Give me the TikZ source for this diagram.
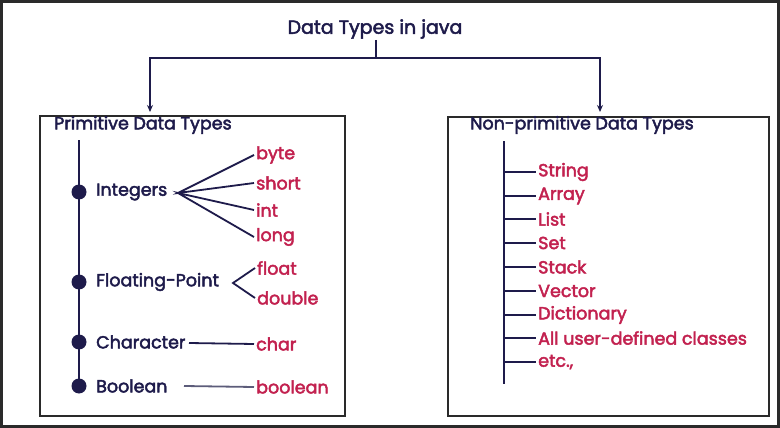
\documentclass[tikz,border=0pt]{standalone}
\usepackage{fontspec}
\setmainfont{Poppins}
\newfontfamily\semi{Poppins}[FakeBold=2.6]
\usetikzlibrary{arrows.meta}
\definecolor{navy}{HTML}{1E1B4B}
\definecolor{crim}{HTML}{C2214F}
\definecolor{slate}{HTML}{5C5C7A}
\definecolor{frame}{HTML}{2A2A2A}
\begin{document}
\begin{tikzpicture}[x=1pt,y=-1pt,
  ttl/.style={font=\semi\fontsize{19}{21}\selectfont, text=navy, inner sep=0pt},
  head/.style={font=\semi\fontsize{17.5}{19}\selectfont, text=navy, anchor=west, inner sep=0pt},
  lbl/.style={font=\semi\fontsize{17.5}{19}\selectfont, text=navy, anchor=west, inner sep=0pt},
  item/.style={font=\semi\fontsize{17.5}{19}\selectfont, text=crim, anchor=west, inner xsep=2pt, inner ysep=0pt},
  ln/.style={navy, line width=1.8pt},
  lnl/.style={slate, line width=1.8pt},
  arr/.style={ln, -{Stealth[length=7pt,width=6pt]}},
  dotn/.style={circle, fill=navy, minimum size=15pt, inner sep=0pt},
  boxn/.style={draw=frame, line width=1.2pt, inner sep=0pt}
]
\useasboundingbox (0,0) rectangle (780,428);
\draw[frame, line width=3pt] (1.5,1.5) rectangle (778.5,426.5);

% title and branches
\node[ttl] (root) at (375,29) {Data Types in java};
\coordinate (j) at (376,58);
\coordinate (pa) at (150,112);
\coordinate (na) at (600,112);
\draw[ln] (376,40) -- (j);
\draw[arr] (j) -| (pa);
\draw[arr] (j) -| (na);

% boxes
\node[boxn, minimum width=305pt, minimum height=300pt] (pbox) at (192.5,266) {};
\node[boxn, minimum width=321pt, minimum height=299pt] (nbox) at (608.5,266.5) {};
\node[head] (ph) at (54,125) {Primitive Data Types};
\node[head] (nh) at (470,125) {Non-primitive Data Types};

% primitive spine
\coordinate (ptop) at (79,140);
\node[dotn] (d1) at (79,192) {};
\node[dotn] (d2) at (79,282) {};
\node[dotn] (d3) at (79,342) {};
\node[dotn] (d4) at (79,386) {};
\draw[ln] (ptop) -- (d4.center);

\node[lbl] (int) at (96,192) {Integers};
\node[lbl] (flt) at (96,282) {Floating-Point};
\node[lbl] (chr) at (96,342) {Character};
\node[lbl] (bool) at (96,386) {Boolean};

\node[item] (byte) at (254,155) {byte};
\node[item] (short) at (254,183) {short};
\node[item] (intt) at (254,210) {int};
\node[item] (long) at (254,237) {long};
\node[item] (float) at (255,268) {float};
\node[item] (double) at (255,298) {double};
\node[item] (char) at (254,344) {char};
\node[item] (boolean) at (254,387) {boolean};

\coordinate (ifan) at (178,193);
\draw[ln] (byte.west) -- (ifan) -- (short.west);
\draw[ln] (intt.west) -- (ifan) -- (long.west);
\coordinate (ffan) at (233,283);
\draw[ln] (float.west) -- (ffan) -- (double.west);
\draw[ln] (189,343) -- (char.west);
\draw[lnl] (184,386) -- (boolean.west);

% non-primitive spine
\coordinate (ntop) at (504,141);
\coordinate (nbot) at (504,384);
\draw[ln] (ntop) -- (nbot);
\foreach \n/\t/\y in {s1/String/172, s2/Array/196, s3/List/219, s4/Set/243, s5/Stack/267, s6/Vector/291, s7/Dictionary/315, s8/All user-defined classes/338, s9/{etc.,}/362}{
  \node[item] (\n) at (536,\y) {\t};
  \draw[ln] (504,\y) -- (\n.west);
}
\end{tikzpicture}
\end{document}
